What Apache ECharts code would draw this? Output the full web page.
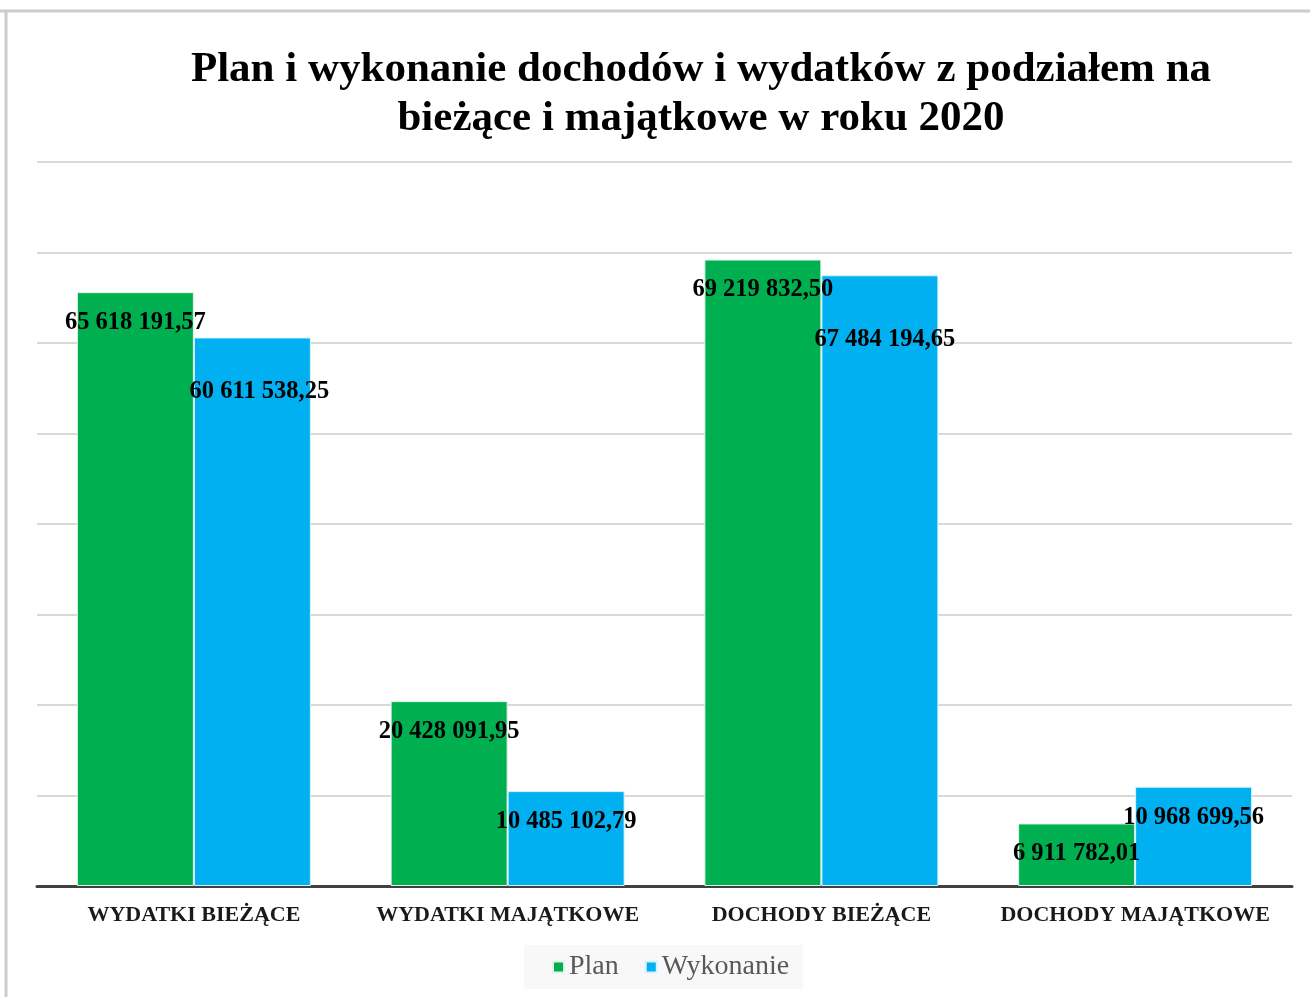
<!DOCTYPE html>
<html>
<head>
<meta charset="utf-8">
<script src="https://cdn.jsdelivr.net/npm/echarts@6/dist/echarts.min.js"></script>
<style>
html,body{margin:0;padding:0;background:#fff;}
#chart{width:1310px;height:997px;}
</style>
</head>
<body>
<div id="chart"></div>
<script>
const categories = ['WYDATKI BIEŻĄCE', 'WYDATKI MAJĄTKOWE', 'DOCHODY BIEŻĄCE', 'DOCHODY MAJĄTKOWE'];
const planValues = [65618191.57, 20428091.95, 69219832.50, 6911782.01];
const wykonanieValues = [60611538.25, 10485102.79, 67484194.65, 10968699.56];
const seriesNames = ['Plan', 'Wykonanie'];

function fmt(v) {
  const parts = v.toFixed(2).split('.');
  const intPart = parts[0].replace(/\B(?=(\d{3})+(?!\d))/g, ' ');
  return intPart + ',' + parts[1];
}

const planOffsets = [[0, 0], [0, 0], [0, 0], [0, 0]];
const wykOffsets = [[7, 24], [0, 0], [5, 34], [0, 0]];

function buildData(values, offsets) {
  return values.map((v, i) => ({
    value: v,
    label: { offset: offsets[i] }
  }));
}

const labelStyle = {
  show: true,
  position: 'insideTop',
  distance: 18,
  fontFamily: 'Liberation Serif',
  fontWeight: 'bold',
  fontSize: 24.5,
  color: '#000',
  formatter: p => fmt(p.value)
};

const chart = echarts.init(document.getElementById('chart'), null, { renderer: 'canvas' });
chart.setOption({
  backgroundColor: '#fff',
  animation: false,
  title: {
    text: 'Plan i wykonanie dochodów i wydatków z podziałem na\nbieżące i majątkowe w roku 2020',
    left: 696,
    textAlign: 'center',
    top: 40,
    textStyle: {
      fontFamily: 'Liberation Serif',
      fontWeight: 'bold',
      fontSize: 43,
      lineHeight: 49,
      color: '#000'
    }
  },
  legend: {
    data: seriesNames,
    left: 524,
    top: 945,
    itemWidth: 11,
    itemHeight: 11,
    itemGap: 26,
    icon: 'rect',
    backgroundColor: '#f8f8f8',
    padding: [8, 14, 8, 28],
    textStyle: {
      fontFamily: 'Liberation Serif',
      fontSize: 28,
      color: '#595959'
    }
  },
  graphic: [
    { type: 'line', shape: { x1: 0, y1: 11, x2: 1310, y2: 11 }, style: { stroke: '#cccccc', lineWidth: 3 } },
    { type: 'line', shape: { x1: 6, y1: 11, x2: 6, y2: 997 }, style: { stroke: '#cccccc', lineWidth: 3 } }
  ],
  grid: { left: 37, right: 18, top: 162, bottom: 111 },
  xAxis: {
    type: 'category',
    data: categories,
    axisTick: { show: false },
    axisLine: { lineStyle: { color: '#404040', width: 3 } },
    axisLabel: {
      interval: 0,
      margin: 18,
      fontFamily: 'Liberation Serif',
      fontWeight: 'bold',
      fontSize: 22,
      color: '#1a1a1a'
    }
  },
  yAxis: {
    type: 'value',
    min: 0,
    max: 80000000,
    interval: 10000000,
    axisLabel: { show: false },
    axisLine: { show: false },
    axisTick: { show: false },
    splitLine: { lineStyle: { color: '#d9d9d9', width: 2 } }
  },
  series: [
    {
      name: seriesNames[0],
      type: 'bar',
      data: buildData(planValues, planOffsets),
      barWidth: 117,
      barGap: '0%',
      itemStyle: { color: '#00B050', borderColor: '#e0f5e8', borderWidth: 1 },
      label: labelStyle
    },
    {
      name: seriesNames[1],
      type: 'bar',
      data: buildData(wykonanieValues, wykOffsets),
      barWidth: 117,
      barGap: '0%',
      itemStyle: { color: '#00B0F0', borderColor: '#d8f2fc', borderWidth: 1 },
      label: labelStyle
    }
  ]
});
</script>
</body>
</html>
